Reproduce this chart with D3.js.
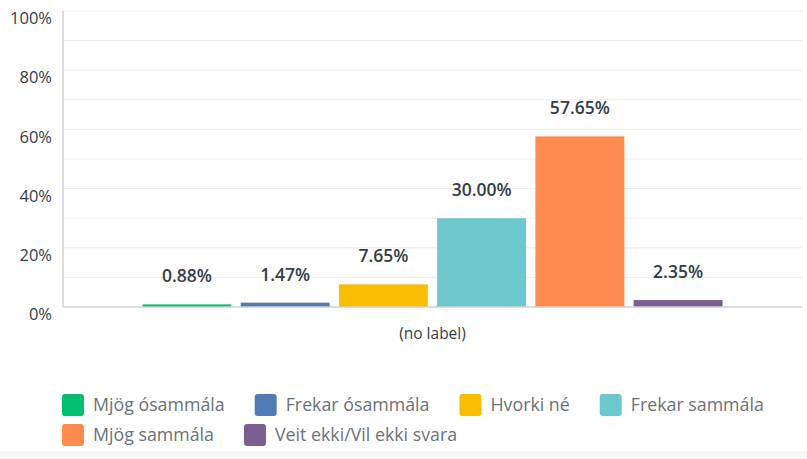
<!DOCTYPE html>
<html>
<head>
<meta charset="utf-8">
<script src="https://cdn.jsdelivr.net/npm/d3@7"></script>
<style>
  html, body { margin: 0; padding: 0; background: #fff; }
  svg { display: block; }
  text { font-family: "Open Sans", "Noto Sans", sans-serif; }
</style>
</head>
<body>
<svg id="chart" width="807" height="459"></svg>
<script>
// ---- data ----
const groups = ["(no label)"];
const categories = ["Mjög ósammála", "Frekar ósammála", "Hvorki né", "Frekar sammála", "Mjög sammála", "Veit ekki/Vil ekki svara"];
const values = [0.88, 1.47, 7.65, 30.00, 57.65, 2.35];
const colors = ["#00BF6F", "#507CB6", "#F9BE00", "#6BC8CD", "#FF8B4F", "#7D5E90"];
const yTicks = [0, 20, 40, 60, 80, 100];

// ---- layout ----
const W = 807, H = 459;
const plot = { left: 63, right: 802, top: 11, bottom: 307 };
const svg = d3.select("#chart");

svg.append("rect").attr("x", 0).attr("y", 451).attr("width", W).attr("height", H - 451).attr("fill", "#f5f5f5");

const y = d3.scaleLinear().domain([0, 100]).range([plot.bottom, plot.top]);
const x0 = d3.scaleBand().domain(groups).range([plot.left, plot.right]).paddingOuter(0.137);
const x1 = d3.scaleBand().domain(categories).range([0, x0.bandwidth()]).paddingInner(0.095).paddingOuter(0);

// gridlines every 10%
const gridVals = d3.range(10, 101, 10);
svg.append("g").selectAll("line").data(gridVals).join("line")
  .attr("x1", plot.left).attr("x2", plot.right)
  .attr("y1", d => y(d)).attr("y2", d => y(d))
  .attr("stroke", "#ececec").attr("stroke-width", 1);

// y axis labels
const yAxis = d3.axisLeft(y).tickValues(yTicks).tickFormat(d => d + "%").tickSize(0).tickPadding(11);
const ya = svg.append("g").attr("transform", `translate(${plot.left},0)`).call(yAxis);
ya.select(".domain").remove();
ya.selectAll("text").attr("font-size", 16.5).attr("fill", "#333e48").attr("dy", "0.35em")
  .attr("transform", "translate(0,7)");

// y axis line
svg.append("line").attr("x1", plot.left).attr("x2", plot.left).attr("y1", plot.top).attr("y2", plot.bottom)
  .attr("stroke", "#d0d0d0").attr("stroke-width", 1.5);

// bars
const g = svg.append("g").attr("transform", `translate(${x0(groups[0])},0)`);
g.selectAll("rect").data(categories).join("rect")
  .attr("x", d => x1(d)).attr("width", x1.bandwidth())
  .attr("y", (d, i) => y(values[i])).attr("height", (d, i) => y(0) - y(values[i]))
  .attr("fill", (d, i) => colors[i]);

// value labels
g.selectAll("text.val").data(categories).join("text").attr("class", "val")
  .attr("x", d => x1(d) + x1.bandwidth() / 2)
  .attr("y", (d, i) => y(values[i]) - 22)
  .attr("text-anchor", "middle").attr("font-size", 17.5).attr("font-weight", 600)
  .attr("fill", "#333e48")
  .text((d, i) => values[i].toFixed(2) + "%");

// baseline
svg.append("line").attr("x1", plot.left).attr("x2", plot.right).attr("y1", plot.bottom).attr("y2", plot.bottom)
  .attr("stroke", "#d0d0d0").attr("stroke-width", 1.5);

// x axis label
const xAxis = d3.axisBottom(x0).tickSize(0).tickPadding(21);
const xa = svg.append("g").attr("transform", `translate(0,${plot.bottom})`).call(xAxis);
xa.select(".domain").remove();
xa.selectAll("text").attr("font-size", 15.5).attr("fill", "#333e48");

// legend (flow layout)
const legend = svg.append("g");
const lx0 = 62, rowH = 30, sw = 22, gap = 30, maxX = 790;
let cx = lx0, row = 0;
categories.forEach((c, i) => {
  const item = legend.append("g");
  item.append("rect").attr("width", sw).attr("height", sw).attr("rx", 3).attr("fill", colors[i]);
  const t = item.append("text").attr("x", sw + 9).attr("y", sw / 2).attr("dy", "0.35em")
    .attr("font-size", 17.8).attr("fill", "#6b7278").text(c);
  const w = sw + 9 + t.node().getComputedTextLength();
  if (cx + w > maxX && cx > lx0) { row++; cx = lx0; }
  item.attr("transform", `translate(${cx},${394 + row * rowH})`);
  cx += w + gap;
});
</script>
</body>
</html>
